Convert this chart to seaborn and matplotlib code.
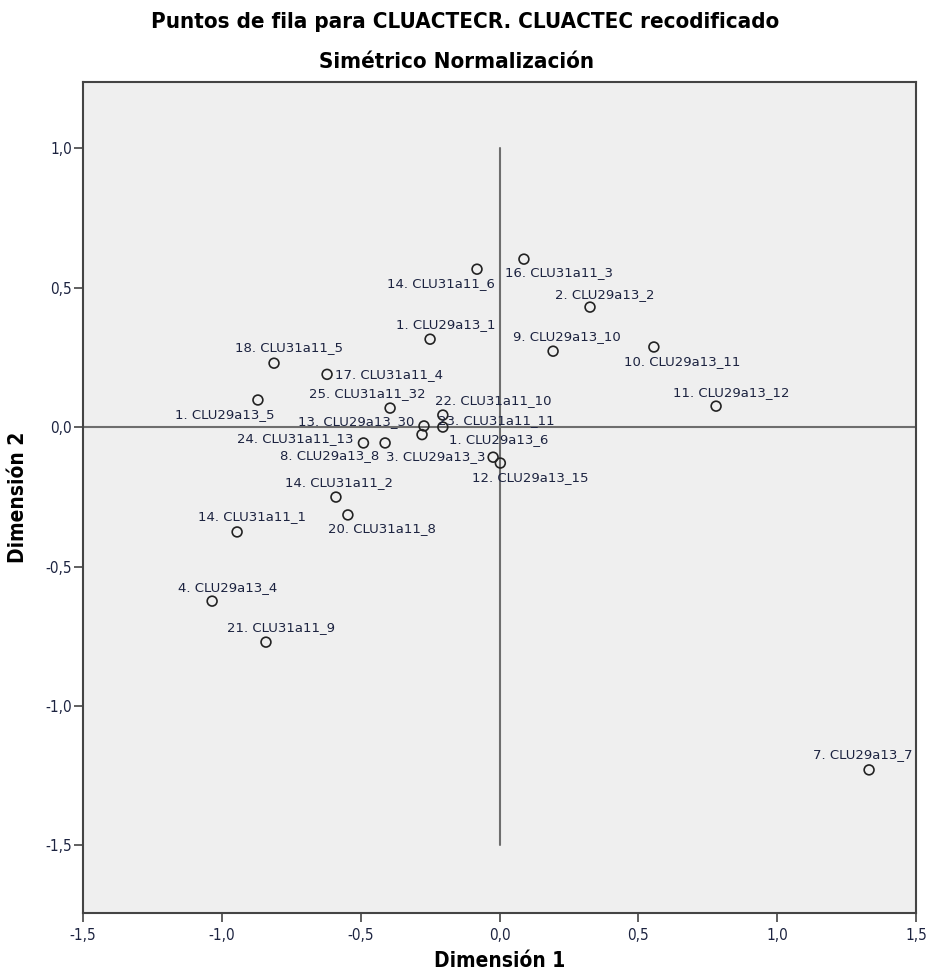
import pandas as pd
import matplotlib.pyplot as plt
import matplotlib.ticker as mticker
import seaborn as sns

# Row points (symmetric normalization)
labels = ["14. CLU31a11_6", "16. CLU31a11_3", "2. CLU29a13_2", "1. CLU29a13_1",
          "9. CLU29a13_10", "10. CLU29a13_11", "11. CLU29a13_12", "18. CLU31a11_5",
          "17. CLU31a11_4", "25. CLU31a11_32", "1. CLU29a13_5", "22. CLU31a11_10",
          "23. CLU31a11_11", "13. CLU29a13_30", "1. CLU29a13_6", "24. CLU31a11_13",
          "8. CLU29a13_8", "3. CLU29a13_3", "12. CLU29a13_15", "14. CLU31a11_2",
          "20. CLU31a11_8", "14. CLU31a11_1", "4. CLU29a13_4", "21. CLU31a11_9",
          "7. CLU29a13_7"]
dim1 = [-0.081, 0.088, 0.326, -0.250, 0.193, 0.556, 0.780, -0.812, -0.621, -0.394,
        -0.870, -0.204, -0.204, -0.272, -0.279, -0.490, -0.412, -0.023, 0.003, -0.589,
        -0.546, -0.945, -1.035, -0.841, 1.331]
dim2 = [0.566, 0.602, 0.430, 0.315, 0.272, 0.287, 0.075, 0.229, 0.189, 0.068,
        0.097, 0.043, 0.000, 0.004, -0.027, -0.057, -0.057, -0.108, -0.129, -0.251,
        -0.315, -0.376, -0.624, -0.771, -1.229]

# label offsets (pixels, y up) so the text sits like in the original
offsets = [(-36, -14), (35, -13), (15, 13), (16, 15), (14, 15), (28, -15), (15, 14),
           (15, 16), (62, 0), (-23, 15), (-33, -15), (50, 15), (53, 7), (-68, 4),
           (77, -5), (-68, 4), (-55, -13), (-57, 1), (30, -14), (3, 15), (34, -14),
           (15, 15), (16, 14), (15, 15), (-6, 15)]

df = pd.DataFrame({"Dimensión 1": dim1, "Dimensión 2": dim2, "label": labels})

sns.set_style("white", {"axes.facecolor": "#efefef", "axes.edgecolor": "#444444"})
txt_col = "#1c2340"

fig = plt.figure(figsize=(9.31, 9.74), dpi=100)
ax = fig.add_axes([83 / 931, 1 - 913 / 974, 833 / 931, 831 / 974])

ax.axhline(0, color="#6e6e6e", lw=1.5, zorder=1)
ax.plot([0, 0], [1.0, -1.5], color="#6e6e6e", lw=1.5, zorder=1)

sns.scatterplot(data=df, x="Dimensión 1", y="Dimensión 2", ax=ax, s=50,
                facecolor="none", edgecolor="#222222", linewidth=1.2, zorder=3)

for lab, x, y, (dx, dy) in zip(labels, dim1, dim2, offsets):
    ax.annotate(lab, (x, y), xytext=(dx * 0.72, dy * 0.72), textcoords="offset points",
                ha="center", va="center", fontsize=9.5, color=txt_col)

ax.set_xlim(-1.5, 1.5)
ax.set_ylim(-1.742, 1.237)
ax.set_xticks([-1.5, -1.0, -0.5, 0.0, 0.5, 1.0, 1.5])
ax.set_yticks([-1.5, -1.0, -0.5, 0.0, 0.5, 1.0])
fmt = mticker.FuncFormatter(lambda v, p: f"{v:.1f}".replace(".", ","))
ax.xaxis.set_major_formatter(fmt)
ax.yaxis.set_major_formatter(fmt)
ax.tick_params(axis="both", direction="out", length=6.5, width=1.2, color="#444444",
               labelsize=11, labelcolor=txt_col, bottom=True, left=True)
ax.tick_params(axis="y", pad=1.5)
ax.tick_params(axis="x", pad=4)
for t in ax.get_xticklabels() + ax.get_yticklabels():
    t.set_fontstretch("condensed")
for s in ax.spines.values():
    s.set_linewidth(1.5)

bold = dict(fontsize=15, fontweight="bold", fontstretch="condensed", color="black")
ax.set_xlabel("Dimensión 1", labelpad=6, **bold)
ax.set_ylabel("Dimensión 2", labelpad=12, **bold)
tbold = dict(fontsize=16, fontweight="bold", fontstretch="condensed", ha="center",
             va="center", color="black")
fig.text(465 / 931, 1 - 22 / 974, "Puntos de fila para CLUACTECR. CLUACTEC recodificado", **tbold)
fig.text(457 / 931, 1 - 62 / 974, "Simétrico Normalización", **tbold)

fig.savefig("out.png", dpi=100, facecolor="white")
